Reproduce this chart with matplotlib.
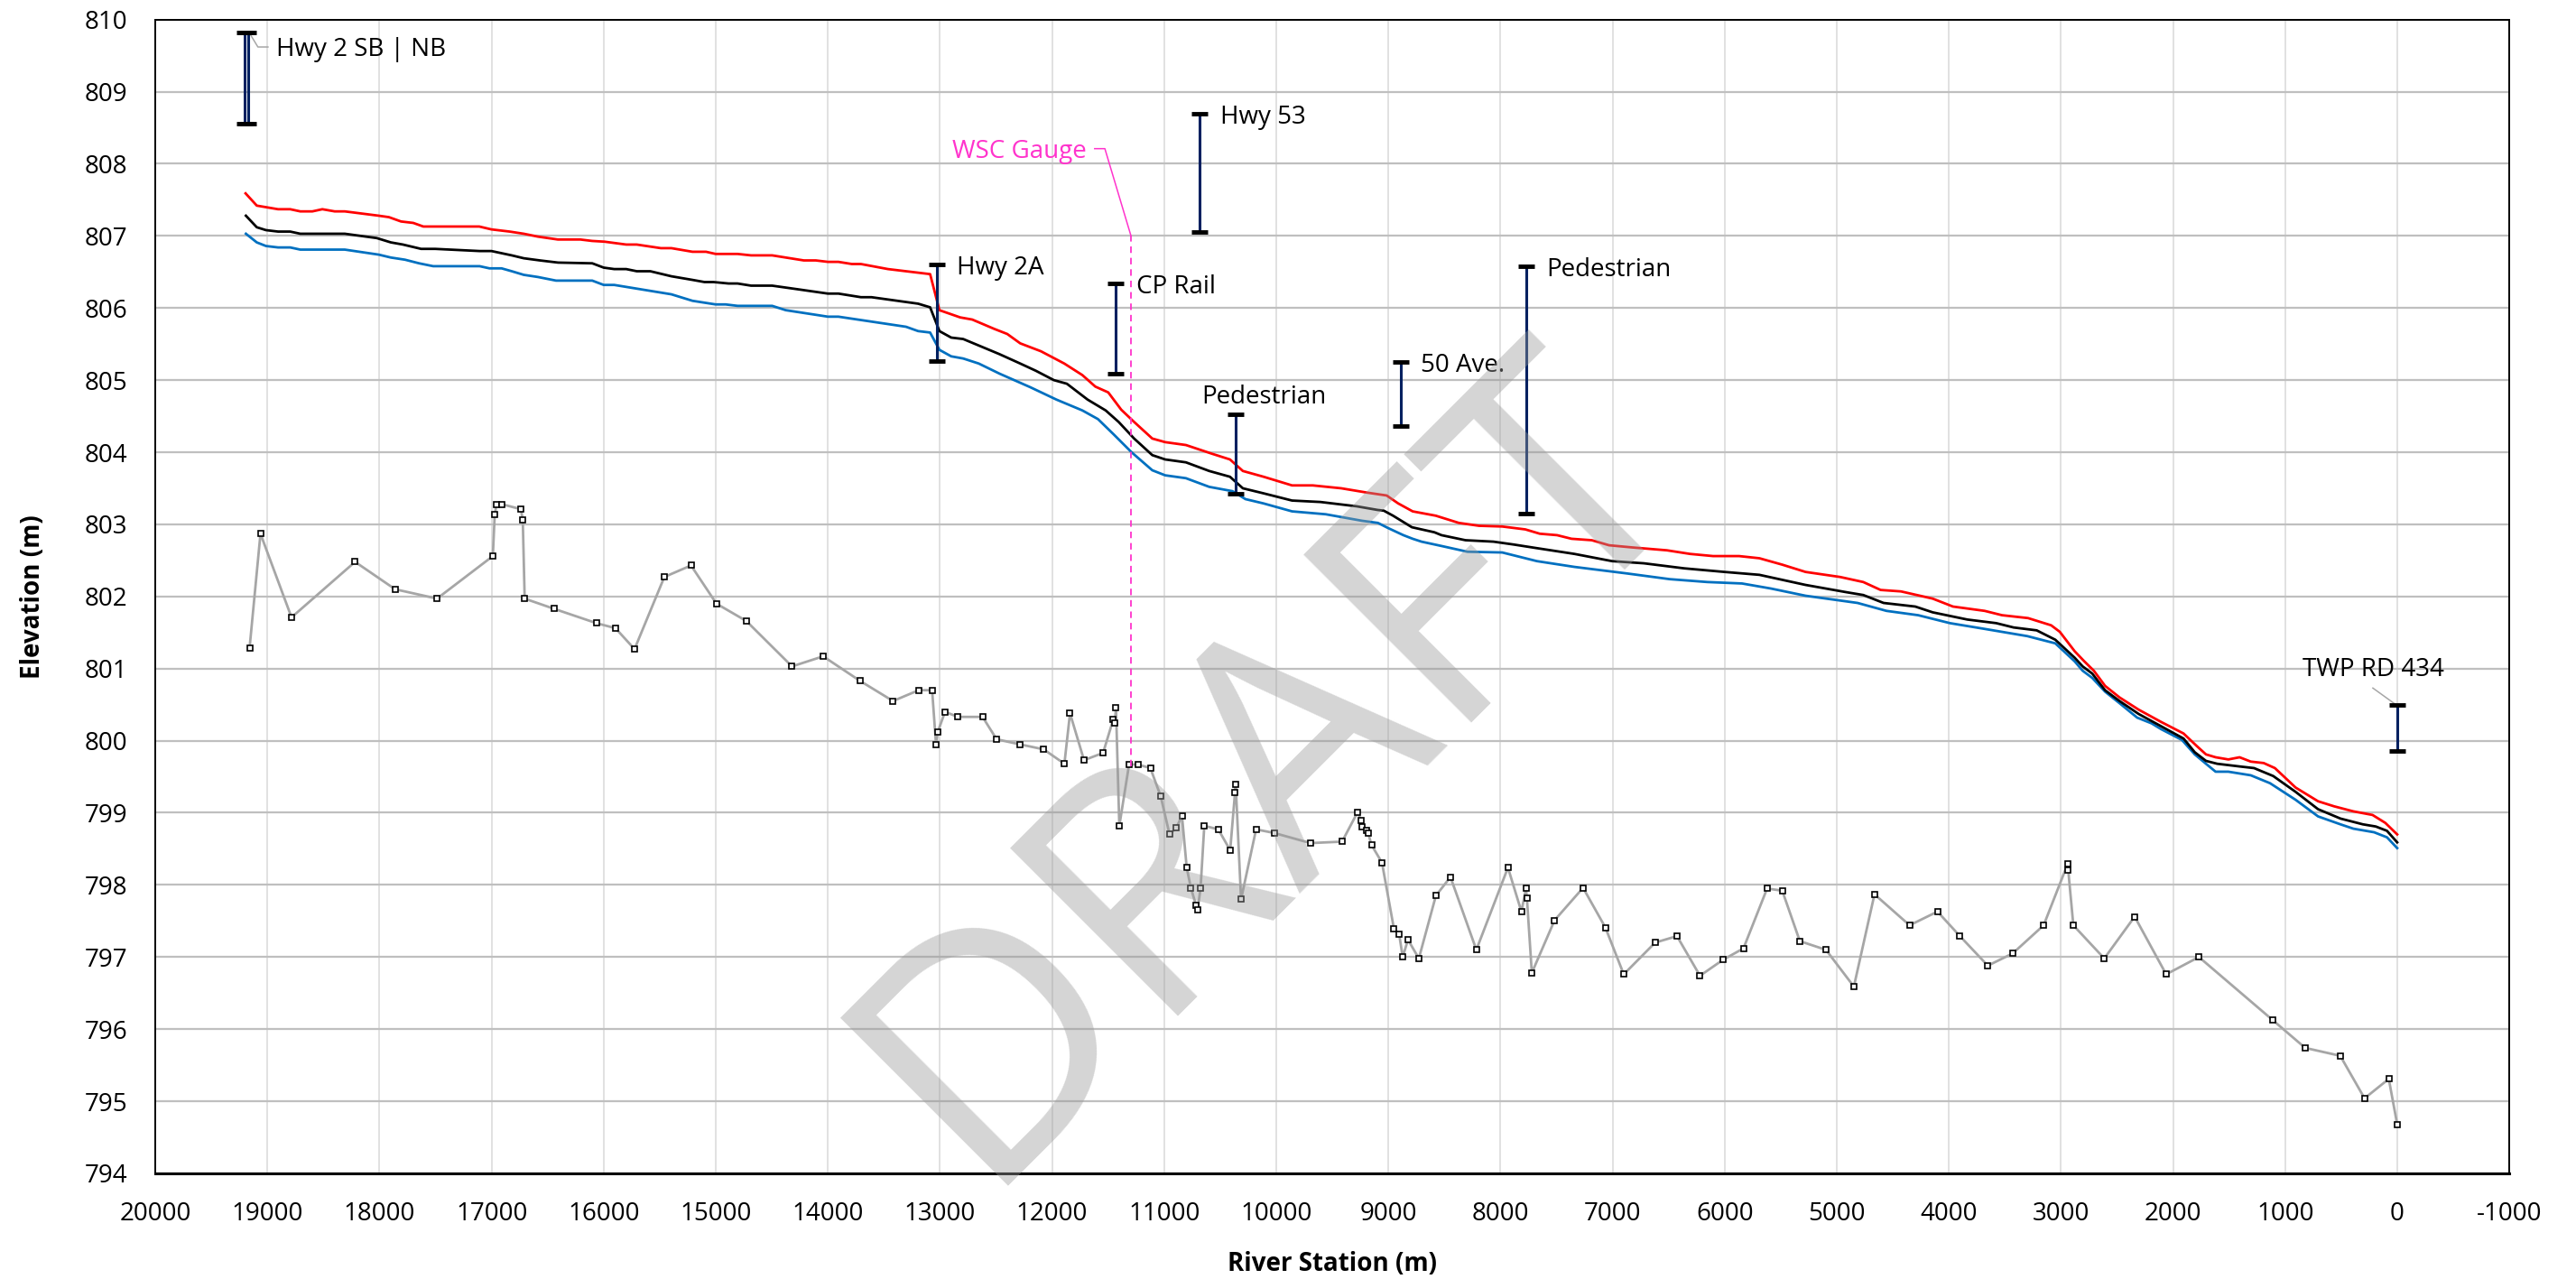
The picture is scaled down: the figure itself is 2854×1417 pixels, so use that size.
import numpy as np
import matplotlib
matplotlib.use("Agg")
import matplotlib.pyplot as plt

plt.rcParams['font.family'] = ['Open Sans', 'DejaVu Sans']
plt.rcParams['axes.unicode_minus'] = False

# water surface profiles (station m, elevation m)
red_sta = [19195, 19095, 18905, 18797, 18707, 18599, 18510, 18400, 18310, 18006, 17916, 17808,
           17699, 17609, 17110, 17001, 16839, 16713, 16587, 16409, 16209, 16103, 15993, 15799,
           15705, 15490, 15396, 15208, 15087, 15002, 14806, 14685, 14497, 14215, 14108, 14000,
           13906, 13786, 13705, 13464, 13088, 13005, 12820, 12712, 12515, 12400, 12284, 12099,
           11891, 11730, 11614, 11499, 11383, 11268, 11106, 10991, 10806, 10575, 10413, 10298,
           10113, 9859, 9674, 9420, 9189, 9015, 8912, 8783, 8577, 8371, 8191, 7984, 7778, 7649,
           7495, 7366, 7185, 7031, 6825, 6515, 6309, 6103, 5871, 5690, 5484, 5278, 4969, 4763,
           4608, 4427, 4144, 3963, 3680, 3525, 3293, 3087, 3010, 2877, 2791, 2706, 2606, 2477,
           2306, 2106, 1906, 1791, 1706, 1620, 1506, 1406, 1306, 1191, 1091, 906, 706, 563, 391,
           220, 106, 0]
red_el = [807.59, 807.42, 807.37, 807.37, 807.34, 807.34, 807.37, 807.34, 807.34, 807.28, 807.26,
          807.20, 807.18, 807.13, 807.13, 807.09, 807.06, 807.03, 806.99, 806.95, 806.95, 806.93,
          806.92, 806.88, 806.88, 806.83, 806.83, 806.78, 806.78, 806.75, 806.75, 806.73, 806.73,
          806.66, 806.66, 806.64, 806.64, 806.61, 806.61, 806.54, 806.47, 805.97, 805.87, 805.84,
          805.71, 805.64, 805.51, 805.40, 805.23, 805.07, 804.91, 804.83, 804.59, 804.42, 804.19,
          804.14, 804.10, 803.98, 803.90, 803.74, 803.66, 803.54, 803.54, 803.50, 803.44, 803.40,
          803.29, 803.18, 803.12, 803.02, 802.98, 802.97, 802.93, 802.87, 802.85, 802.80, 802.78,
          802.71, 802.68, 802.64, 802.59, 802.56, 802.56, 802.53, 802.44, 802.34, 802.27, 802.20,
          802.09, 802.07, 801.97, 801.86, 801.80, 801.74, 801.70, 801.60, 801.51, 801.24, 801.10,
          800.97, 800.76, 800.60, 800.43, 800.26, 800.10, 799.93, 799.81, 799.77, 799.74, 799.77,
          799.71, 799.69, 799.62, 799.35, 799.16, 799.09, 799.02, 798.97, 798.86, 798.70]

black_sta = [19192, 19095, 19013, 18905, 18797, 18707, 18310, 18025, 17899, 17791, 17629, 17503,
             17107, 17001, 16820, 16713, 16569, 16407, 16102, 16000, 15906, 15799, 15705, 15584,
             15396, 15208, 15101, 15020, 14886, 14806, 14685, 14497, 14269, 14000, 13906, 13705,
             13611, 13195, 13088, 13005, 12900, 12793, 12654, 12469, 12284, 12145, 11984, 11868,
             11683, 11522, 11406, 11268, 11106, 10991, 10806, 10598, 10413, 10298, 10113, 9859,
             9605, 9282, 9097, 9041, 8958, 8790, 8589, 8526, 8312, 8062, 7881, 7675, 7340, 7005,
             6721, 6361, 6000, 5690, 5278, 4917, 4763, 4582, 4299, 4144, 3835, 3577, 3422, 3216,
             3050, 2877, 2806, 2720, 2606, 2477, 2306, 2106, 1906, 1806, 1706, 1606, 1391, 1277,
             1106, 906, 706, 506, 306, 191, 91, 0]
black_el = [807.28, 807.12, 807.08, 807.06, 807.06, 807.03, 807.03, 806.97, 806.91, 806.88, 806.82,
            806.82, 806.79, 806.79, 806.73, 806.69, 806.66, 806.63, 806.62, 806.56, 806.54, 806.54,
            806.51, 806.51, 806.44, 806.39, 806.36, 806.36, 806.34, 806.34, 806.31, 806.31, 806.26,
            806.20, 806.20, 806.15, 806.15, 806.06, 806.01, 805.68, 805.59, 805.57, 805.48, 805.36,
            805.23, 805.13, 805.00, 804.95, 804.73, 804.58, 804.42, 804.19, 803.96, 803.90, 803.86,
            803.74, 803.66, 803.50, 803.43, 803.33, 803.31, 803.25, 803.20, 803.19, 803.12, 802.96,
            802.89, 802.85, 802.78, 802.76, 802.72, 802.67, 802.59, 802.49, 802.46, 802.39, 802.34,
            802.30, 802.16, 802.06, 802.02, 801.91, 801.86, 801.78, 801.68, 801.63, 801.57, 801.53,
            801.40, 801.15, 801.03, 800.93, 800.70, 800.55, 800.37, 800.20, 800.03, 799.84, 799.72,
            799.68, 799.64, 799.62, 799.51, 799.29, 799.05, 798.92, 798.84, 798.81, 798.75, 798.59]

blue_sta = [19192, 19095, 19013, 18905, 18797, 18707, 18310, 18006, 17899, 17773, 17647, 17521,
            17107, 17019, 16911, 16820, 16713, 16587, 16425, 16102, 16000, 15906, 15396, 15208,
            15002, 14913, 14806, 14497, 14376, 14000, 13906, 13303, 13195, 13088, 13005, 12900,
            12793, 12654, 12469, 12192, 11961, 11730, 11591, 11452, 11291, 11106, 10991, 10806,
            10598, 10390, 10275, 10113, 9859, 9559, 9236, 9093, 9004, 8866, 8783, 8704, 8526,
            8294, 7984, 7675, 7340, 6876, 6490, 6154, 5845, 5587, 5278, 4814, 4556, 4273, 3990,
            3680, 3300, 3050, 2877, 2806, 2720, 2606, 2477, 2320, 2191, 2106, 1920, 1806, 1706,
            1620, 1506, 1306, 1134, 906, 706, 506, 391, 206, 91, 0]
blue_el = [807.03, 806.91, 806.86, 806.84, 806.84, 806.81, 806.81, 806.74, 806.70, 806.67, 806.62,
           806.58, 806.58, 806.55, 806.55, 806.51, 806.46, 806.43, 806.38, 806.38, 806.32, 806.32,
           806.19, 806.10, 806.05, 806.05, 806.03, 806.03, 805.97, 805.88, 805.88, 805.74, 805.68,
           805.66, 805.42, 805.33, 805.30, 805.23, 805.09, 804.90, 804.73, 804.58, 804.46, 804.25,
           804.00, 803.75, 803.68, 803.64, 803.52, 803.46, 803.35, 803.29, 803.18, 803.14, 803.05,
           803.02, 802.95, 802.85, 802.80, 802.76, 802.70, 802.62, 802.61, 802.49, 802.41, 802.32,
           802.24, 802.20, 802.18, 802.11, 802.01, 801.91, 801.80, 801.74, 801.63, 801.55, 801.45,
           801.35, 801.10, 800.97, 800.87, 800.68, 800.52, 800.32, 800.24, 800.16, 800.01, 799.81,
           799.68, 799.57, 799.57, 799.52, 799.41, 799.18, 798.95, 798.84, 798.78, 798.73, 798.66,
           798.51]

# channel thalweg
bed_sta = [19159, 19062, 18785, 18218, 17861, 17487, 16989, 16972, 16955, 16909, 16739, 16722,
           16705, 16445, 16065, 15895, 15725, 15459, 15221, 14994, 14728, 14320, 14042, 13714,
           13419, 13190, 13070, 13035, 13020, 12955, 12840, 12620, 12495, 12290, 12075, 11890,
           11840, 11715, 11545, 11455, 11440, 11430, 11400, 11313, 11234, 11123, 11031, 10952,
           10892, 10841, 10799, 10762, 10716, 10702, 10675, 10642, 10517, 10411, 10368, 10362,
           10314, 10180, 10018, 9695, 9413, 9274, 9242, 9232, 9195, 9181, 9149, 9057, 8950, 8904,
           8872, 8825, 8728, 8576, 8446, 8215, 7933, 7813, 7772, 7764, 7720, 7517, 7263, 7064,
           6900, 6620, 6425, 6220, 6016, 5832, 5621, 5486, 5329, 5096, 4847, 4663, 4350, 4101,
           3901, 3652, 3430, 3154, 2940, 2935, 2889, 2613, 2342, 2061, 1769, 1114, 821, 508, 291,
           75, 0]
bed_el = [801.29, 802.87, 801.71, 802.48, 802.10, 801.97, 802.56, 803.14, 803.28, 803.28, 803.21,
          803.06, 801.97, 801.83, 801.63, 801.56, 801.27, 802.27, 802.43, 801.90, 801.66, 801.03,
          801.17, 800.83, 800.55, 800.70, 800.70, 799.94, 800.12, 800.40, 800.33, 800.33, 800.02,
          799.95, 799.88, 799.68, 800.38, 799.73, 799.83, 800.29, 800.24, 800.46, 798.82, 799.67,
          799.67, 799.62, 799.23, 798.70, 798.79, 798.96, 798.24, 797.96, 797.72, 797.65, 797.96,
          798.82, 798.77, 798.48, 799.28, 799.40, 797.80, 798.77, 798.72, 798.58, 798.60, 799.01,
          798.89, 798.80, 798.76, 798.72, 798.55, 798.31, 797.39, 797.32, 797.00, 797.24, 796.98,
          797.85, 798.11, 797.10, 798.24, 797.63, 797.95, 797.82, 796.78, 797.51, 797.96, 797.41,
          796.76, 797.20, 797.29, 796.74, 796.96, 797.12, 797.95, 797.92, 797.22, 797.10, 796.59,
          797.87, 797.44, 797.63, 797.29, 796.88, 797.05, 797.44, 798.29, 798.21, 797.44, 796.98,
          797.56, 796.76, 797.00, 796.13, 795.74, 795.63, 795.04, 795.31, 794.68]

# bridges: station, low chord, high chord
bridge_sta = [19200, 19175, 13031, 11435, 10681, 10364, 8889, 7768, 0]
bridge_low = [808.56, 808.56, 805.27, 805.09, 807.06, 803.42, 804.36, 803.15, 799.86]
bridge_high = [809.82, 809.82, 806.60, 806.34, 808.69, 804.53, 805.25, 806.58, 800.50]
bridge_names = ["Hwy 2 SB | NB", "Hwy 2A", "CP Rail", "Hwy 53", "Pedestrian", "50 Ave.",
                "Pedestrian", "TWP RD 434"]

gauge_sta = 11296
gauge_top = 807.0
gauge_bot = 799.65

fig = plt.figure(figsize=(28.54, 14.17), dpi=100)
ax = fig.add_axes([0.0603, 0.0826, 0.9138, 0.9021])

ax.plot(bed_sta, bed_el, color='#A6A6A6', lw=2.0, marker='s', ms=3.8, mfc='white',
        mec='black', mew=1.2, zorder=3)
ax.plot(blue_sta, blue_el, color='#0070C0', lw=2.0, zorder=4)
ax.plot(black_sta, black_el, color='black', lw=2.0, zorder=4)
ax.plot(red_sta, red_el, color='#FF0000', lw=2.0, zorder=4)

# bridges
for s, lo, hi in zip(bridge_sta, bridge_low, bridge_high):
    ax.plot([s, s], [lo, hi], color='#002060', lw=2.2, zorder=5)
    ax.plot([s, s], [lo, hi], ls='none', marker='_', ms=13, mew=3.5, color='black', zorder=6)

# WSC gauge
ax.plot([gauge_sta, gauge_sta], [gauge_bot, gauge_top], color='#FF33CC', lw=1.3,
        ls=(0, (4, 3)), zorder=5)
ax.plot([gauge_sta, 11529, 11620], [gauge_top, 808.21, 808.21], color='#FF33CC', lw=1.1, zorder=5)
ax.text(11691, 808.17, "WSC Gauge", color='#FF33CC', fontsize=20, ha='right', va='center')

# bridge labels
fs = 20
ax.plot([19163, 19085, 18995], [809.82, 809.62, 809.62], color='#A6A6A6', lw=1.1, zorder=5)
ax.text(18923, 809.58, bridge_names[0], fontsize=fs, ha='left', va='center')
ax.text(12850, 806.56, bridge_names[1], fontsize=fs, ha='left', va='center')
ax.text(11250, 806.29, bridge_names[2], fontsize=fs, ha='left', va='center')
ax.text(10502, 808.65, bridge_names[3], fontsize=fs, ha='left', va='center')
ax.text(10113, 804.77, bridge_names[4], fontsize=fs, ha='center', va='center')
ax.text(8710, 805.20, bridge_names[5], fontsize=fs, ha='left', va='center')
ax.text(7588, 806.53, bridge_names[6], fontsize=fs, ha='left', va='center')
ax.plot([217, 21], [800.73, 800.51], color='#A6A6A6', lw=1.1, zorder=5)
ax.text(217, 800.99, bridge_names[7], fontsize=fs, ha='center', va='center')

ax.set_xlim(20000, -1000)
ax.set_ylim(794, 810)
ax.set_xticks(np.arange(20000, -1001, -1000))
ax.set_yticks(np.arange(794, 811, 1))
ax.tick_params(axis='both', length=0, labelsize=20)
ax.tick_params(axis='y', pad=22)
ax.tick_params(axis='x', pad=22)

ax.grid(axis='y', color='#BFBFBF', lw=1.6, zorder=0)
ax.grid(axis='x', color='#D9D9D9', lw=1.1, zorder=0)
ax.set_axisbelow(True)
for sp in ax.spines.values():
    sp.set_color('black')
    sp.set_linewidth(1.4)
ax.spines['bottom'].set_linewidth(2.2)

ax.set_xlabel("River Station (m)", fontsize=20, fontweight='bold', labelpad=20)
ax.set_ylabel("Elevation (m)", fontsize=20, fontweight='bold', labelpad=31)

# watermark
ax.text(0.474, 0.352, "DRAFT", transform=ax.transAxes, fontsize=265, color='#9A9A9A',
        alpha=0.42, rotation=45, ha='center', va='center', zorder=10, clip_on=False)

fig.savefig("out.png", dpi=100)
